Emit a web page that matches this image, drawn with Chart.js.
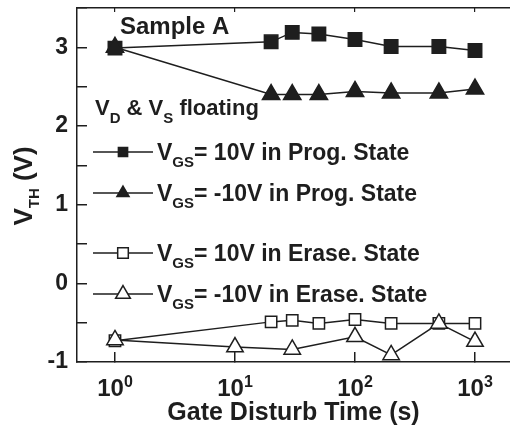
<!DOCTYPE html>
<html lang="en">
<head>
<meta charset="UTF-8">
<title>Gate Disturb - Sample A</title>
<script src="https://cdn.jsdelivr.net/npm/chart.js"></script>
<style>
    body { margin: 0; background: #fff; }
    #wrap { width: 510px; height: 432px; position: relative; }
</style>
</head>
<body>
<div id="wrap"><canvas id="vthChart"></canvas></div>
<script>
    // data
    const progTime = [1, 20, 30, 50, 100, 200, 500, 1000];
    const progPos = [2.99, 3.07, 3.19, 3.17, 3.10, 3.01, 3.01, 2.96];
    const progNeg = [3.00, 2.40, 2.40, 2.40, 2.44, 2.42, 2.42, 2.47];
    const eraseTime = [1, 20, 30, 50, 100, 200, 500, 1000];
    const erasePos = [-0.73, -0.49, -0.47, -0.51, -0.46, -0.51, -0.51, -0.51];
    const eraseNegTime = [1, 10, 30, 100, 200, 500, 1000];
    const eraseNeg = [-0.72, -0.81, -0.84, -0.68, -0.91, -0.51, -0.74];
    const xTickValues = [1, 10, 100, 1000];
    const xTickExp = ['0', '1', '2', '3'];
    const seriesNames = [
        '= 10V in Prog. State',
        '= -10V in Prog. State',
        '= 10V in Erase. State',
        '= -10V in Erase. State'
    ];

    const INK = '#1e1e1e';
    const FONT = '"Liberation Sans", Arial, Helvetica, sans-serif';

    const pts = (xs, ys) => xs.map((x, i) => ({ x: x, y: ys[i] }));

    function richText(ctx, x, y, parts, align) {
        // parts: [text, size, dy]
        let w = 0;
        parts.forEach(p => { ctx.font = 'bold ' + p[1] + 'px ' + FONT; w += ctx.measureText(p[0]).width; });
        let cx = align === 'center' ? x - w / 2 : x;
        ctx.textAlign = 'left';
        ctx.textBaseline = 'alphabetic';
        ctx.fillStyle = INK;
        parts.forEach(p => {
            ctx.font = 'bold ' + p[1] + 'px ' + FONT;
            ctx.fillText(p[0], cx, y + (p[2] || 0));
            cx += ctx.measureText(p[0]).width;
        });
    }

    function marker(ctx, style, filled, r, x, y) {
        ctx.beginPath();
        if (style === 'rect') {
            const s = r * Math.SQRT1_2;
            ctx.rect(x - s, y - s, 2 * s, 2 * s);
        } else {
            const k = r * Math.sin(2 * Math.PI / 3);
            ctx.moveTo(x, y - r);
            ctx.lineTo(x + k, y + r / 2);
            ctx.lineTo(x - k, y + r / 2);
            ctx.closePath();
        }
        ctx.fillStyle = filled ? INK : '#fff';
        ctx.fill();
        ctx.lineWidth = 1.5;
        ctx.strokeStyle = INK;
        ctx.stroke();
    }

    // texts with sub/superscripts, legend inside the plot
    const annotations = {
        id: 'annotations',
        afterDraw(chart) {
            const ctx = chart.ctx;
            const xs = chart.scales.x;
            ctx.save();

            // x tick labels 10^n
            xTickValues.forEach((v, i) => {
                richText(ctx, xs.getPixelForValue(v), 396, [['10', 24], [xTickExp[i], 16, -9]], 'center');
            });

            // y axis title
            ctx.save();
            ctx.translate(32, 186);
            ctx.rotate(-Math.PI / 2);
            richText(ctx, 0, 0, [['V', 26], ['TH', 15, 7], [' (V)', 26]], 'center');
            ctx.restore();

            richText(ctx, 120, 34, [['Sample A', 24]]);
            richText(ctx, 95, 115, [['V', 22], ['D', 15, 8], [' & V', 22], ['S', 15, 8], [' floating', 22]]);

            const rows = [152, 193, 253, 294];
            const styles = [['rect', true, 6.5], ['triangle', true, 7], ['rect', false, 7.5], ['triangle', false, 8.5]];
            rows.forEach((y, i) => {
                ctx.beginPath();
                ctx.moveTo(93, y);
                ctx.lineTo(153, y);
                ctx.lineWidth = 1.5;
                ctx.strokeStyle = INK;
                ctx.stroke();
                marker(ctx, styles[i][0], styles[i][1], styles[i][2], 123, y);
                richText(ctx, 157, y + 8, [['V', 23], ['GS', 15, 7], [seriesNames[i], 23]]);
            });
            ctx.restore();
        }
    };

    const lineSet = (label, data, style, filled, r, order) => ({
        label: label,
        data: data,
        order: order,
        borderColor: INK,
        borderWidth: 1.5,
        backgroundColor: filled ? INK : '#fff',
        pointStyle: style,
        pointRadius: r,
        pointHoverRadius: r,
        pointBorderWidth: 1.5,
        pointBorderColor: INK,
        pointBackgroundColor: filled ? INK : '#fff',
        tension: 0,
        clip: false
    });

    const xMin = 0.4825, xMax = 1957;
    const decades = (s) => { s.ticks = xTickValues.map(v => ({ value: v })); };
    const noPad = (s) => { s.paddingLeft = 0; s.paddingRight = 0; s.paddingTop = 0; s.paddingBottom = 0; };

    new Chart(document.getElementById('vthChart'), {
        type: 'line',
        data: {
            datasets: [
                lineSet('VGS' + seriesNames[0], pts(progTime, progPos), 'rect', true, 9.5, 1),
                lineSet('VGS' + seriesNames[1], pts(progTime, progNeg), 'triangle', true, 10, 0),
                lineSet('VGS' + seriesNames[2], pts(eraseTime, erasePos), 'rect', false, 8, 1),
                lineSet('VGS' + seriesNames[3], pts(eraseNegTime, eraseNeg), 'triangle', false, 9.5, 0)
            ]
        },
        plugins: [annotations],
        options: {
            responsive: true,
            maintainAspectRatio: false,
            animation: false,
            layout: { autoPadding: false, padding: { top: 8, left: 0, right: 0, bottom: 0 } },
            plugins: {
                legend: { display: false },
                tooltip: { enabled: false }
            },
            scales: {
                x: {
                    type: 'logarithmic',
                    position: 'bottom',
                    min: xMin,
                    max: xMax,
                    afterBuildTicks: decades,
                    afterFit: (s) => { s.height = 70; noPad(s); },
                    grid: { drawOnChartArea: false, tickLength: -10, color: INK, lineWidth: 1.5 },
                    border: { color: INK, width: 1.5 },
                    ticks: { display: false },
                    title: {
                        display: true,
                        text: 'Gate Disturb Time (s)',
                        color: INK,
                        font: { family: FONT, size: 25, weight: 'bold' },
                        padding: { top: 0, bottom: 4 }
                    }
                },
                xTop: {
                    type: 'logarithmic',
                    position: 'top',
                    min: xMin,
                    max: xMax,
                    afterBuildTicks: decades,
                    afterFit: (s) => { s.height = 0; noPad(s); },
                    grid: { drawOnChartArea: false, tickLength: -4, color: INK, lineWidth: 1.2 },
                    border: { color: INK, width: 1.5 },
                    ticks: { display: false }
                },
                y: {
                    min: -1,
                    max: 3.5,
                    afterFit: (s) => { s.width = 77; noPad(s); },
                    grid: { drawOnChartArea: false, tickLength: -10, color: INK, lineWidth: 1.5 },
                    border: { color: INK, width: 1.5 },
                    ticks: {
                        stepSize: 0.5,
                        padding: 19,
                        color: INK,
                        font: { family: FONT, size: 23, weight: 'bold' },
                        callback: (v) => Number.isInteger(v) && v < 3.5 ? String(v) : ''
                    }
                }
            }
        }
    });
</script>
</body>
</html>
